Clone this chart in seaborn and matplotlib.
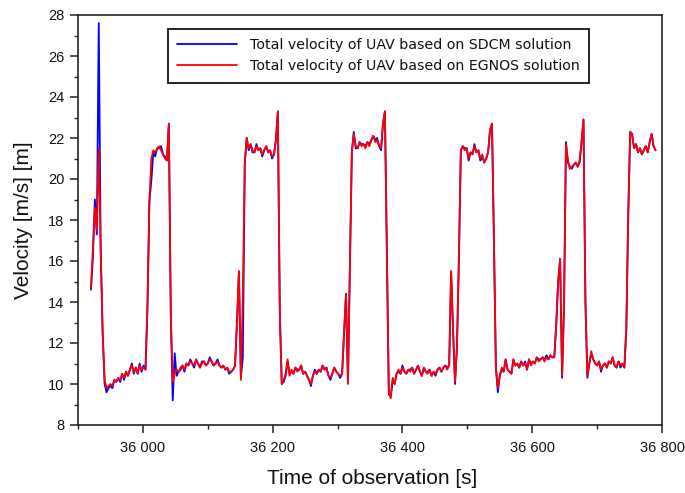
import numpy as np
import pandas as pd
import matplotlib
matplotlib.use("Agg")
import matplotlib.pyplot as plt
from matplotlib.ticker import MultipleLocator, FuncFormatter
import seaborn as sns

# ---- data (3 s sampling) ----
t_start = 35920
t_step = 3

egnos = [
    14.7, 16.6, 18.6, 17.5, 21.5, 16.4, 12.5, 10.2, 9.8, 9.9,
    10.0, 9.9, 10.2, 10.1, 10.3, 10.2, 10.5, 10.3, 10.6, 10.4,
    10.7, 10.9, 10.6, 10.8, 10.5, 10.9, 10.7, 10.8, 10.7, 13.7,
    18.9, 21.0, 21.4, 21.3, 21.5, 21.6, 21.4, 21.2, 21.0, 20.9,
    22.7, 13.4, 10.1, 10.5, 10.7, 10.6, 10.8, 10.9, 10.7, 11.0,
    10.9, 11.1, 11.0, 10.9, 11.2, 11.0, 10.8, 11.0, 11.1, 10.9,
    11.0, 11.2, 11.1, 10.9, 11.0, 11.1, 10.9, 10.8, 10.9, 10.7,
    10.8, 10.6, 10.6, 10.7, 10.9, 13.0, 15.5, 10.2, 14.3, 20.8,
    22.0, 21.5, 21.7, 21.4, 21.3, 21.6, 21.4, 21.5, 21.2, 21.4,
    21.6, 21.3, 21.4, 21.1, 21.2, 21.9, 23.3, 13.5, 10.0, 10.2,
    10.5, 11.2, 10.4, 10.7, 10.5, 10.8, 10.6, 10.7, 10.9, 10.5,
    10.6, 10.4, 10.2, 10.0, 10.4, 10.6, 10.5, 10.7, 10.6, 10.9,
    10.7, 10.8, 10.4, 10.3, 10.5, 10.8, 10.6, 10.5, 10.4, 10.5,
    12.5, 14.4, 10.0, 15.6, 21.3, 22.2, 21.6, 21.5, 21.8, 21.6,
    21.7, 21.5, 21.8, 21.6, 21.9, 22.1, 21.8, 21.9, 21.6, 21.5,
    22.7, 23.3, 16.4, 9.6, 9.3, 10.3, 10.0, 10.5, 10.7, 10.5,
    10.8, 10.6, 10.5, 10.7, 10.6, 10.8, 10.5, 10.7, 10.9, 10.6,
    10.4, 10.8, 10.6, 10.5, 10.7, 10.4, 10.6, 10.5, 10.7, 10.8,
    10.6, 10.8, 10.9, 10.7, 10.9, 15.5, 12.7, 10.1, 11.8, 16.1,
    21.4, 21.6, 21.4, 21.5, 21.0, 21.3, 21.2, 21.6, 21.3, 21.4,
    21.0, 21.2, 20.8, 21.0, 21.3, 22.4, 22.7, 17.0, 10.8, 9.8,
    10.4, 10.8, 10.6, 11.2, 10.7, 10.6, 10.5, 11.2, 10.9, 11.0,
    10.8, 11.1, 10.9, 11.0, 10.7, 11.2, 10.9, 11.1, 11.0, 11.3,
    11.1, 11.2, 11.3, 11.1, 11.3, 11.2, 11.4, 11.3, 11.3, 12.9,
    15.0, 16.1, 10.4, 13.8, 21.7, 20.9, 20.5, 20.6, 20.7, 20.8,
    20.6, 20.9, 21.8, 22.9, 14.0, 10.4, 11.0, 11.6, 11.2, 11.0,
    10.9, 11.1, 10.7, 10.9, 11.0, 10.8, 11.1, 11.0, 11.3, 10.9,
    10.8, 11.1, 10.9, 11.0, 10.8, 12.7, 18.3, 22.3, 22.1, 21.5,
    21.7, 21.3, 21.5, 21.2, 21.4, 21.6, 21.3, 21.8, 22.2, 21.6,
    21.4,
]

sdcm = [
    14.6, 16.2, 19.0, 17.3, 27.6, 16.5, 12.5, 10.0, 9.6, 9.8,
    9.9, 9.8, 10.2, 10.1, 10.3, 10.1, 10.5, 10.2, 10.6, 10.4,
    10.7, 11.0, 10.5, 10.8, 10.5, 11.0, 10.6, 10.9, 10.7, 13.7,
    18.9, 19.9, 21.3, 21.1, 21.5, 21.5, 21.6, 21.2, 21.1, 20.9,
    22.7, 13.4, 9.2, 11.5, 10.4, 10.6, 10.7, 10.9, 10.6, 11.0,
    10.9, 11.2, 11.0, 10.8, 11.2, 11.0, 10.8, 11.1, 11.1, 10.9,
    11.0, 11.3, 11.1, 10.9, 11.0, 11.2, 10.9, 10.8, 10.9, 10.7,
    10.8, 10.5, 10.6, 10.7, 10.9, 13.0, 15.5, 10.3, 11.3, 20.7,
    22.0, 21.4, 21.7, 21.3, 21.3, 21.7, 21.4, 21.5, 21.1, 21.4,
    21.6, 21.3, 21.4, 21.0, 21.2, 21.9, 23.3, 13.5, 10.0, 10.1,
    10.4, 11.1, 10.5, 10.6, 10.5, 10.8, 10.7, 10.7, 10.9, 10.5,
    10.6, 10.4, 10.2, 9.9, 10.4, 10.7, 10.5, 10.7, 10.6, 10.9,
    10.7, 10.8, 10.4, 10.2, 10.5, 10.8, 10.6, 10.5, 10.3, 10.5,
    12.5, 14.4, 10.1, 15.6, 21.3, 22.3, 21.5, 21.5, 21.8, 21.7,
    21.7, 21.6, 21.8, 21.7, 21.9, 22.1, 21.9, 22.0, 21.6, 21.4,
    22.7, 23.3, 16.4, 9.5, 9.4, 10.2, 10.0, 10.5, 10.6, 10.5,
    10.9, 10.6, 10.5, 10.7, 10.7, 10.8, 10.5, 10.7, 10.9, 10.6,
    10.4, 10.8, 10.6, 10.6, 10.7, 10.4, 10.6, 10.4, 10.7, 10.8,
    10.6, 10.8, 10.9, 10.8, 10.9, 15.5, 12.6, 10.0, 11.8, 16.1,
    21.4, 21.6, 21.5, 21.5, 20.9, 21.3, 21.2, 21.7, 21.3, 21.4,
    20.9, 21.1, 20.8, 21.0, 21.3, 22.4, 22.7, 17.0, 10.8, 9.6,
    10.4, 10.7, 10.6, 11.2, 10.7, 10.6, 10.5, 11.2, 10.9, 11.0,
    10.8, 11.1, 10.9, 11.1, 10.7, 11.2, 11.0, 11.1, 11.0, 11.3,
    11.2, 11.2, 11.3, 11.2, 11.4, 11.2, 11.4, 11.3, 11.3, 12.9,
    15.0, 16.1, 10.3, 13.8, 21.8, 20.8, 20.6, 20.5, 20.7, 20.8,
    20.6, 20.8, 21.8, 22.9, 14.0, 10.3, 11.0, 11.5, 11.2, 11.0,
    10.9, 11.1, 10.6, 10.9, 11.0, 10.8, 11.1, 11.0, 11.3, 10.9,
    10.8, 11.1, 10.8, 11.0, 10.8, 12.7, 18.3, 22.3, 22.2, 21.5,
    21.7, 21.3, 21.5, 21.2, 21.4, 21.6, 21.3, 21.8, 22.2, 21.6,
    21.4,
]

label_sdcm = "Total velocity of UAV based on SDCM solution"
label_egnos = "Total velocity of UAV based on EGNOS solution"
xlabel = "Time of observation [s]"
ylabel = "Velocity [m/s] [m]"

time = t_start + t_step * np.arange(len(egnos))

df = pd.concat([
    pd.DataFrame({"time": time, "velocity": sdcm, "series": label_sdcm}),
    pd.DataFrame({"time": time, "velocity": egnos, "series": label_egnos}),
], ignore_index=True)

# ---- style ----
sns.set_style("ticks")
plt.rcParams["font.family"] = ["Liberation Sans", "DejaVu Sans"]

fig = plt.figure(figsize=(6.85, 4.93), dpi=100)
ax = fig.add_axes([78 / 685, 1 - 425 / 493, 584 / 685, 410 / 493])

sns.lineplot(
    data=df, x="time", y="velocity", hue="series",
    hue_order=[label_sdcm, label_egnos],
    palette={label_sdcm: "#0000ff", label_egnos: "#ff0000"},
    estimator=None, sort=False, linewidth=1.3, ax=ax,
)

ax.set_xlim(35900, 36800)
ax.set_ylim(8, 28)
ax.xaxis.set_major_locator(MultipleLocator(200))
ax.xaxis.set_minor_locator(MultipleLocator(100))
ax.yaxis.set_major_locator(MultipleLocator(2))
ax.yaxis.set_minor_locator(MultipleLocator(1))
ax.xaxis.set_major_formatter(FuncFormatter(lambda v, p: f"{int(round(v)):,}".replace(",", " ")))
ax.yaxis.set_major_formatter(FuncFormatter(lambda v, p: f"{int(round(v))}"))

for s in ax.spines.values():
    s.set_visible(True)
    s.set_color("#222222")
    s.set_linewidth(1.2)

ax.tick_params(axis="both", which="major", direction="out", length=5.8, width=1.1,
               color="#222222", labelsize=10.5, labelcolor="#111111")
ax.tick_params(axis="both", which="minor", direction="out", length=2.9, width=1.0,
               color="#222222")
ax.tick_params(axis="x", which="major", pad=6)
ax.tick_params(axis="y", which="major", pad=4)
ax.tick_params(top=False, right=False, which="both")

ax.set_xlabel(xlabel, fontsize=15, color="#111111")
ax.set_ylabel(ylabel, fontsize=15, color="#111111")
ax.xaxis.set_label_coords(0.504, -0.108)
ax.yaxis.set_label_coords(-0.077, 0.5)

leg = ax.legend(
    loc="upper left", bbox_to_anchor=((168 - 78) / 584, (425 - 29) / 410),
    borderaxespad=0, frameon=True, fancybox=False, shadow=False,
    prop={"family": "DejaVu Sans", "size": 10.2},
    framealpha=1, edgecolor="#111111", handlelength=4.2, handletextpad=0.95,
    labelspacing=0.5, borderpad=0.65,
)
leg.get_frame().set_linewidth(1.3)
for h in leg.get_lines():
    h.set_linewidth(1.3)
for txt in leg.get_texts():
    txt.set_color("#111111")

fig.savefig("out.png", dpi=100)
